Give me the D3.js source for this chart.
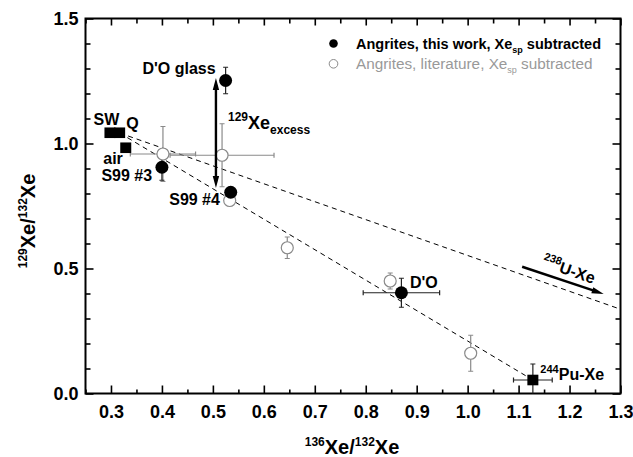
<!DOCTYPE html>
<html>
<head>
<meta charset="utf-8">
<script src="https://cdn.jsdelivr.net/npm/d3@7"></script>
<style>
  html, body { margin: 0; padding: 0; background: #fff; }
  svg { display: block; font-family: "Liberation Sans", Arial, Helvetica, sans-serif; }
  .tick text { font-weight: bold; font-size: 18px; fill: #000; }
</style>
</head>
<body>
<svg id="chart" width="633" height="457"></svg>
<script>
// Angrites, this work (Xe_sp subtracted)
const workNames = ["D'O glass", "S99 #3", "S99 #4", "D'O"];
const workX  = [0.525, 0.400, 0.535, 0.870];
const workY  = [1.252, 0.905, 0.805, 0.403];
const workXErr = [0.000, 0.000, 0.000, 0.075];
const workYErr = [0.053, 0.052, 0.000, 0.058];

// Angrites, literature (Xe_sp subtracted)
const litX  = [0.402, 0.518, 0.533, 0.646, 0.848, 1.006];
const litY  = [0.958, 0.953, 0.772, 0.583, 0.450, 0.161];
const litXErr = [0.064, 0.102, 0.000, 0.008, 0.010, 0.010];
const litYErr = [0.110, 0.126, 0.015, 0.043, 0.032, 0.072];

// Reference compositions
const refNames = ["SW", "Q", "air", "Pu-Xe"];
const refX  = [0.298, 0.317, 0.329, 1.128];
const refY  = [1.043, 1.043, 0.983, 0.054];
const refXErr = [0, 0, 0, 0.038];
const refYErr = [0, 0, 0, 0.064];

// Mixing lines from Q towards fission end-members
const mixStart = [0.317, 1.042];
const mixEnds  = [[1.30, 0.337], [1.128, 0.054]];

// Arrows: 129Xe excess and 238U-Xe direction
const excessArrow = [[0.506, 0.822], [0.506, 1.262]];
const uxeArrow    = [[1.107, 0.507], [1.267, 0.398]];

const xMajor = [0.3, 0.4, 0.5, 0.6, 0.7, 0.8, 0.9, 1.0, 1.1, 1.2, 1.3];
const xMinor = [0.25, 0.35, 0.45, 0.55, 0.65, 0.75, 0.85, 0.95, 1.05, 1.15, 1.25];
const yMajor = [0.0, 0.5, 1.0, 1.5];
const yMinor = [0.1, 0.2, 0.3, 0.4, 0.6, 0.7, 0.8, 0.9, 1.1, 1.2, 1.3, 1.4];

const svg = d3.select("#chart");
const x = d3.scaleLinear().domain([0.25, 1.3]).range([85.5, 620.5]);
const y = d3.scaleLinear().domain([0, 1.5]).range([393.5, 18.5]);
const [x0, x1] = x.range();
const [y0, y1] = y.range();

svg.append("defs").append("clipPath").attr("id", "plot")
  .append("rect").attr("x", x0).attr("y", y1).attr("width", x1 - x0).attr("height", y0 - y1);

// ---- axes ----
function addAxis(axis, tr, values, size, labels) {
  const g = svg.append("g").attr("transform", tr)
    .call(axis.tickValues(values).tickSizeInner(size).tickSizeOuter(0));
  g.select(".domain").remove();
  g.selectAll(".tick line").attr("stroke", "#000").attr("stroke-width", 1.6);
  if (!labels) g.selectAll(".tick text").remove();
  return g;
}
const fmt = d3.format(".1f");
addAxis(d3.axisBottom(x).tickFormat(fmt).tickPadding(12), `translate(0,${y0})`, xMajor, -8, true);
addAxis(d3.axisBottom(x), `translate(0,${y0})`, xMinor, -4, false);
addAxis(d3.axisTop(x), `translate(0,${y1})`, xMajor, -7, false);
addAxis(d3.axisTop(x), `translate(0,${y1})`, xMinor, -5, false);
addAxis(d3.axisLeft(y).tickFormat(fmt).tickPadding(7), `translate(${x0},0)`, yMajor, -8, true);
addAxis(d3.axisLeft(y), `translate(${x0},0)`, yMinor, -5, false);
addAxis(d3.axisRight(y), `translate(${x1},0)`, yMajor, -8, false);
addAxis(d3.axisRight(y), `translate(${x1},0)`, yMinor, -5, false);

svg.append("rect").attr("x", x0).attr("y", y1).attr("width", x1 - x0).attr("height", y0 - y1)
  .attr("fill", "none").attr("stroke", "#000").attr("stroke-width", 2);

// ---- axis titles with superscripts ----
function isoLabel(sel, parts, big, small) {
  parts.forEach(p => {
    if (p[0] === "sup") {
      sel.append("tspan").attr("font-size", small).attr("dy", -big * 0.42).text(p[1]);
    } else {
      sel.append("tspan").attr("font-size", big).attr("dy", p[2] ? big * 0.42 : 0).text(p[1]);
    }
  });
}
const xt = svg.append("text").attr("x", 352).attr("y", 454).attr("text-anchor", "middle")
  .attr("font-weight", "bold");
isoLabel(xt, [["sup", "136"], ["n", "Xe/", true], ["sup", "132"], ["n", "Xe", true]], 20, 12);

const yt = svg.append("text").attr("transform", "translate(35,221) rotate(-90)")
  .attr("text-anchor", "middle").attr("font-weight", "bold");
isoLabel(yt, [["sup", "129"], ["n", "Xe/", true], ["sup", "132"], ["n", "Xe", true]], 20, 12);

// ---- mixing lines ----
const plot = svg.append("g").attr("clip-path", "url(#plot)");
mixEnds.forEach(e => {
  plot.append("line")
    .attr("x1", x(mixStart[0])).attr("y1", y(mixStart[1]))
    .attr("x2", x(e[0])).attr("y2", y(e[1]))
    .attr("stroke", "#000").attr("stroke-width", 1).attr("stroke-dasharray", "5,4");
});

// ---- error bars ----
function errorBars(xs, ys, xe, ye, color, cap) {
  xs.forEach((xv, i) => {
    const cx = x(xv), cy = y(ys[i]);
    if (ye[i] > 0) {
      const t = y(ys[i] + ye[i]), b = y(ys[i] - ye[i]);
      plot.append("line").attr("x1", cx).attr("x2", cx).attr("y1", t).attr("y2", b)
        .attr("stroke", color).attr("stroke-width", 1.2);
      [t, b].forEach(v => plot.append("line").attr("x1", cx - cap).attr("x2", cx + cap)
        .attr("y1", v).attr("y2", v).attr("stroke", color).attr("stroke-width", 1.2));
    }
    if (xe[i] > 0) {
      const l = x(xv - xe[i]), r = x(xv + xe[i]);
      plot.append("line").attr("x1", l).attr("x2", r).attr("y1", cy).attr("y2", cy)
        .attr("stroke", color).attr("stroke-width", 1.2);
      [l, r].forEach(v => plot.append("line").attr("x1", v).attr("x2", v)
        .attr("y1", cy - cap).attr("y2", cy + cap).attr("stroke", color).attr("stroke-width", 1.2));
    }
  });
}
errorBars(litX, litY, litXErr, litYErr, "#8a8a8a", 2.5);
errorBars(workX, workY, workXErr, workYErr, "#222", 2.5);
errorBars(refX, refY, refXErr, refYErr, "#222", 2.5);

// ---- markers ----
plot.selectAll(".lit").data(litX).join("circle")
  .attr("cx", d => x(d)).attr("cy", (d, i) => y(litY[i])).attr("r", 6)
  .attr("fill", "#fff").attr("stroke", "#8a8a8a").attr("stroke-width", 1.2);
plot.selectAll(".work").data(workX).join("circle")
  .attr("cx", d => x(d)).attr("cy", (d, i) => y(workY[i])).attr("r", 6.5)
  .attr("fill", "#000");
plot.selectAll(".ref").data(refX).join("rect")
  .attr("x", d => x(d) - 5.5).attr("y", (d, i) => y(refY[i]) - 5.3)
  .attr("width", 11).attr("height", 10.6).attr("fill", "#000");

// ---- arrows ----
function arrow(p, q, heads, w) {
  const ax = x(p[0]), ay = y(p[1]), bx = x(q[0]), by = y(q[1]);
  const dx = bx - ax, dy = by - ay, len = Math.hypot(dx, dy);
  const ux = dx / len, uy = dy / len;
  const hl = 12, hw = 3.2;
  const s0 = heads.start ? hl * 0.8 : 0, s1 = heads.end ? hl * 0.8 : 0;
  svg.append("line")
    .attr("x1", ax + ux * s0).attr("y1", ay + uy * s0)
    .attr("x2", bx - ux * s1).attr("y2", by - uy * s1)
    .attr("stroke", "#000").attr("stroke-width", w);
  const head = (tx, ty, vx, vy) => {
    const bx2 = tx - vx * hl, by2 = ty - vy * hl;
    svg.append("path").attr("d",
      `M${tx},${ty}L${bx2 - vy * hw},${by2 + vx * hw}L${bx2 + vy * hw},${by2 - vx * hw}Z`)
      .attr("fill", "#000");
  };
  if (heads.end) head(bx, by, ux, uy);
  if (heads.start) head(ax, ay, -ux, -uy);
}
arrow(excessArrow[0], excessArrow[1], { start: true, end: true }, 2.4);
arrow(uxeArrow[0], uxeArrow[1], { start: false, end: true }, 2.4);

// ---- point labels ----
function label(px, py, parts, anchor, size) {
  const t = svg.append("text").attr("x", px).attr("y", py).attr("font-weight", "bold")
    .attr("font-size", size).attr("text-anchor", anchor || "start");
  parts.forEach(p => {
    const s = t.append("tspan").text(p.t);
    if (p.fs) s.attr("font-size", p.fs);
    if (p.dy) s.attr("dy", p.dy);
  });
  return t;
}
label(x(workX[0]) - 10, 74, [{ t: workNames[0] }], "end", 16);
label(x(refX[0]) - 16.5, 125, [{ t: refNames[0] }], "start", 16);
label(x(refX[1]) + 6.5, 128.5, [{ t: refNames[1] }], "start", 16);
label(x(refX[2]) - 22.5, 163.5, [{ t: refNames[2] }], "start", 16);
label(x(workX[1]) - 60.5, 181, [{ t: workNames[1] }], "start", 16);
label(x(workX[2]) - 61.5, 205, [{ t: workNames[2] }], "start", 16);
label(x(workX[3]) + 8.5, 287.5, [{ t: workNames[3] }], "start", 16);
label(x(refX[3]) + 7.5, 379.5, [{ t: "244", fs: 11, dy: -7 }, { t: refNames[3], fs: 16, dy: 7 }], "start", 16);
label(228, 128.5, [{ t: "129", fs: 12, dy: -8 }, { t: "Xe", fs: 18, dy: 8 }, { t: "excess", fs: 12, dy: 5 }], "start", 18);
label(0, 0, [{ t: "238", fs: 11, dy: -7 }, { t: "U-Xe", fs: 16, dy: 7 }], "start", 16)
  .attr("transform", "translate(541,266) rotate(19)");

// ---- legend ----
const leg = svg.append("g");
leg.append("circle").attr("cx", 333.5).attr("cy", 43.5).attr("r", 4.3).attr("fill", "#000");
leg.append("circle").attr("cx", 333.5).attr("cy", 63.8).attr("r", 4.3)
  .attr("fill", "#fff").attr("stroke", "#8a8a8a").attr("stroke-width", 1);
const l1 = leg.append("text").attr("x", 356).attr("y", 48.5).attr("font-size", 14.5)
  .attr("font-weight", "bold").attr("fill", "#000");
l1.append("tspan").text("Angrites, this work, Xe");
l1.append("tspan").attr("font-size", 9).attr("dy", 4).text("sp");
l1.append("tspan").attr("dy", -4).text(" subtracted");
const l2 = leg.append("text").attr("x", 356).attr("y", 68.5).attr("font-size", 15.3)
  .attr("fill", "#999");
l2.append("tspan").text("Angrites, literature, Xe");
l2.append("tspan").attr("font-size", 9).attr("dy", 4).text("sp");
l2.append("tspan").attr("dy", -4).text(" subtracted");
</script>
</body>
</html>
